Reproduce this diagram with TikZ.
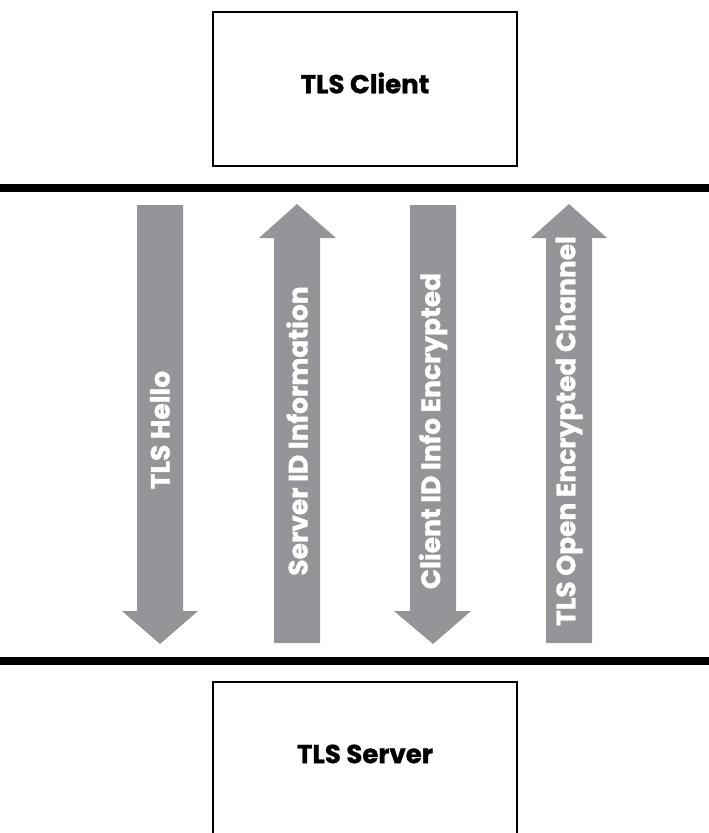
\documentclass[tikz,border=0pt]{standalone}
\usepackage{fontspec}
\setmainfont{Poppins}[BoldFont={Poppins Bold}, BoldFeatures={FakeBold=1.2}]
\definecolor{arrowgray}{RGB}{147,149,152}
\begin{document}
\begin{tikzpicture}[x=1pt,y=-1pt,
  boxtext/.style={font=\bfseries\fontsize{26}{30}\selectfont, inner sep=0pt},
  arrowtext/.style={font=\bfseries\fontsize{26.5}{30}\selectfont, text=white, rotate=90, inner sep=0pt},
  fatarrow/.style={fill=arrowgray, draw=none},
  bar/.style={line width=8pt},
  frame/.style={line width=2pt}]
\useasboundingbox (0,0) rectangle (709,833);
% horizontal bars
\draw[bar] (0,188) -- (709,188);
\draw[bar] (0,661) -- (709,661);
% client box
\node[frame, draw, minimum width=304pt, minimum height=154pt, inner sep=0pt] (clientbox) at (365,89) {};
\node[boxtext] (client) at (365,83) {TLS Client};
% server box (open at bottom)
\draw[frame] (213,833) -- (213,682) -- (517,682) -- (517,833);
\node[boxtext] (server) at (365,754) {TLS Server};
% arrows
\fill[fatarrow] (137,205) -- (183,205) -- (183,611) -- (198,611) -- (160,644) -- (122,611) -- (137,611) -- cycle;
\fill[fatarrow] (274,643) -- (320,643) -- (320,238) -- (336,238) -- (297,204) -- (259,238) -- (274,238) -- cycle;
\fill[fatarrow] (410,205) -- (456,205) -- (456,611) -- (471,611) -- (433,644) -- (394,611) -- (410,611) -- cycle;
\fill[fatarrow] (546,643) -- (592,643) -- (592,238) -- (607,238) -- (569,204) -- (531,238) -- (546,238) -- cycle;
% arrow labels
\node[arrowtext] (hello) at (160,430) {TLS Hello};
\node[arrowtext] (serverid) at (297,431) {Server ID Information};
\node[arrowtext] (clientid) at (433,431) {Client ID Info Encrypted};
\node[arrowtext] (channel) at (569,431) {TLS Open Encrypted Channel};
\end{tikzpicture}
\end{document}
